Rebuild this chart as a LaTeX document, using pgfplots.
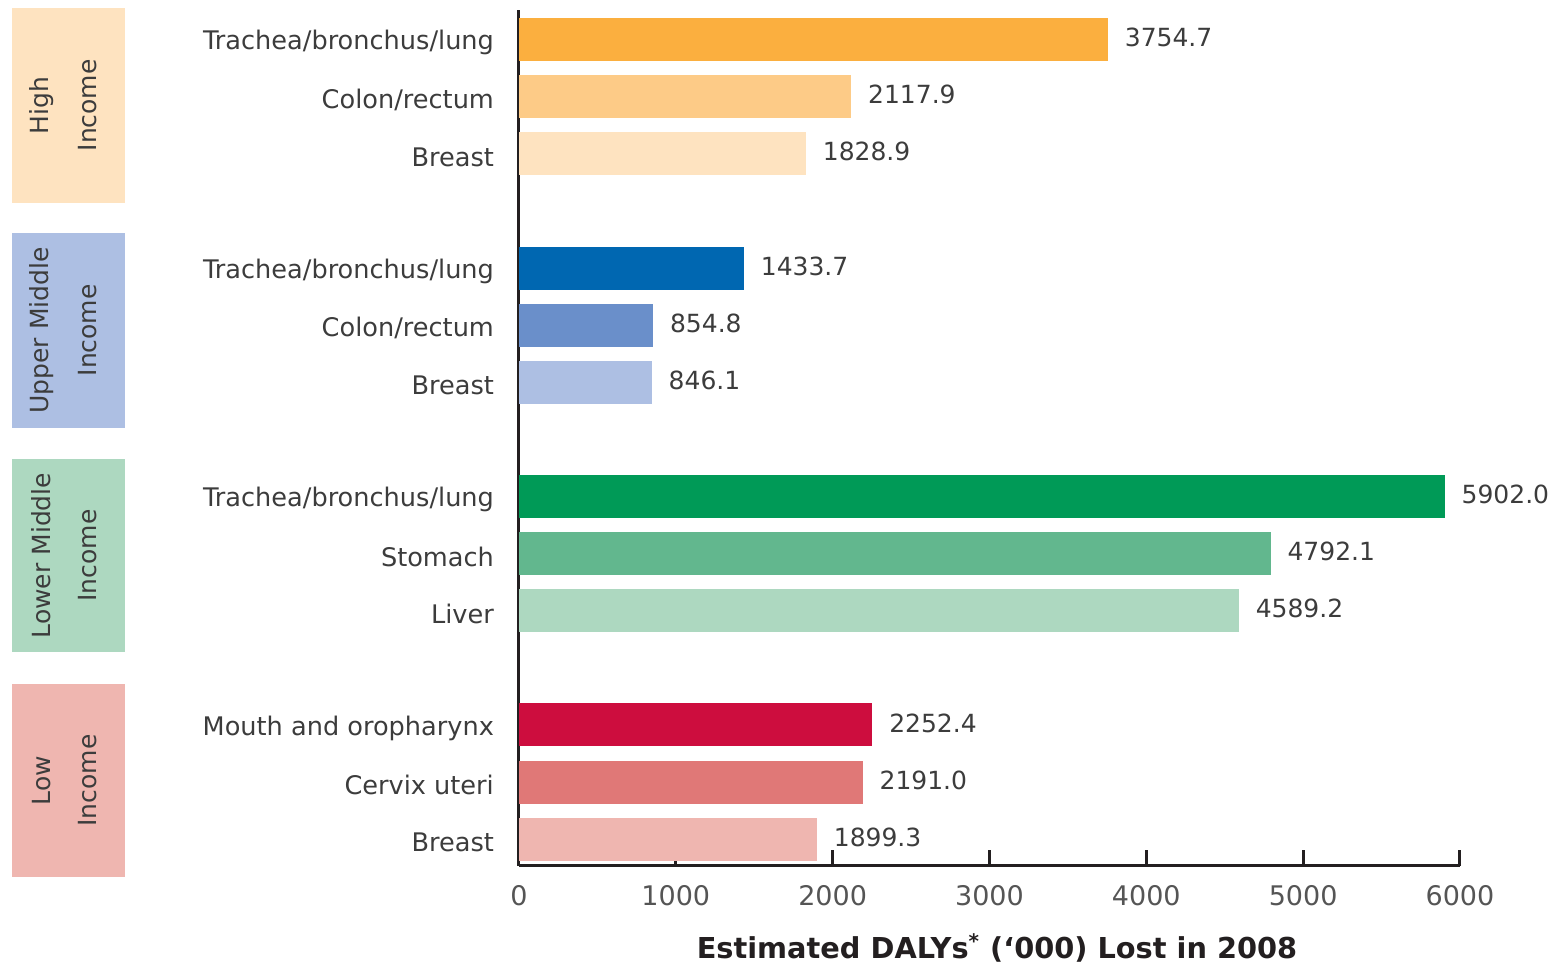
\documentclass[border=0pt]{standalone}
\usepackage{pgfplots}
\pgfplotsset{compat=1.18}
\usepackage{fontspec}
\setmainfont{DejaVu Sans}
\definecolor{hiA}{HTML}{FBAF3F}
\definecolor{hiB}{HTML}{FDCB87}
\definecolor{hiC}{HTML}{FEE3C0}
\definecolor{umA}{HTML}{0067B1}
\definecolor{umB}{HTML}{6A8FCA}
\definecolor{umC}{HTML}{ADBFE3}
\definecolor{lmA}{HTML}{009A57}
\definecolor{lmB}{HTML}{62B78E}
\definecolor{lmC}{HTML}{ADD8C0}
\definecolor{loA}{HTML}{CD0D3E}
\definecolor{loB}{HTML}{E07877}
\definecolor{loC}{HTML}{EFB6B0}
\definecolor{axc}{HTML}{231F20}
\definecolor{txt}{HTML}{3C3C3C}
\definecolor{tkc}{HTML}{555555}
\newcommand{\lab}{\fontsize{12.8}{15}\selectfont}
\newcommand{\vlab}{\fontsize{12.5}{15}\selectfont}
\begin{document}
\begin{tikzpicture}
\begin{axis}[
  scale only axis, width=470.5pt, height=428pt,
  xmin=0, xmax=6000, ymin=-14.47, ymax=0.52,
  axis x line*=bottom, axis y line*=left,
  xbar, bar width=21.5pt, bar shift=0pt,
  clip=false,
  xtick={0,1000,2000,3000,4000,5000,6000},
  scaled x ticks=false,
  xtick align=inside,
  major tick length=8pt,
  x tick style={line width=1.5pt, color=axc},
  axis line style={line width=1.5pt, color=axc},
  ytick={0,-1,-2,-4,-5,-6,-8,-9,-10,-12,-13,-14},
  yticklabels={Trachea/bronchus/lung,Colon/rectum,Breast,Trachea/bronchus/lung,Colon/rectum,Breast,Trachea/bronchus/lung,Stomach,Liver,Mouth and oropharynx,Cervix uteri,Breast},
  y tick style={draw=none},
  yticklabel style={font=\lab, text=txt, xshift=-1pt, yshift=-1.5pt},
  xticklabel style={font=\fontsize{13.5}{15}\selectfont, text=tkc, yshift=-6pt},
  /pgf/number format/1000 sep={},
  /pgf/number format/assume math mode=true,
  xlabel={\textbf{Estimated DALYs\textsuperscript{*} (‘000) Lost in 2008}},
  xlabel style={font=\fontsize{14.4}{17}\selectfont, text=axc, at={(axis description cs:0.508,0)}, anchor=center, yshift=-41pt},
  point meta=x,
  nodes near coords={\pgfmathprintnumber[fixed,zerofill,precision=1,1000 sep={},assume math mode=true]{\pgfplotspointmeta}},
  nodes near coords style={font=\vlab, text=txt, xshift=5pt, yshift=1pt},
]
\addplot[fill=hiA, draw=none] coordinates {(3754.7,0)};
\addplot[fill=hiB, draw=none] coordinates {(2117.9,-1)};
\addplot[fill=hiC, draw=none] coordinates {(1828.9,-2)};
\addplot[fill=umA, draw=none] coordinates {(1433.7,-4)};
\addplot[fill=umB, draw=none] coordinates {(854.8,-5)};
\addplot[fill=umC, draw=none] coordinates {(846.1,-6)};
\addplot[fill=lmA, draw=none] coordinates {(5902.0,-8)};
\addplot[fill=lmB, draw=none] coordinates {(4792.1,-9)};
\addplot[fill=lmC, draw=none] coordinates {(4589.2,-10)};
\addplot[fill=loA, draw=none] coordinates {(2252.4,-12)};
\addplot[fill=loB, draw=none] coordinates {(2191.0,-13)};
\addplot[fill=loC, draw=none] coordinates {(1899.3,-14)};

\fill[hiC] (axis cs:-3233,0.555) rectangle (axis cs:-2512,-2.858);
\fill[umC] (axis cs:-3233,-3.38) rectangle (axis cs:-2512,-6.80);
\fill[lmC] (axis cs:-3233,-7.34) rectangle (axis cs:-2512,-10.73);
\fill[loC] (axis cs:-3233,-11.28) rectangle (axis cs:-2512,-14.67);

\node[rotate=90, font=\vlab, text=txt] at (axis cs:-3044,-1.15) {High};
\node[rotate=90, font=\vlab, text=txt] at (axis cs:-2748,-1.15) {Income};
\node[rotate=90, font=\vlab, text=txt] at (axis cs:-3044,-5.09) {Upper Middle};
\node[rotate=90, font=\vlab, text=txt] at (axis cs:-2748,-5.09) {Income};
\node[rotate=90, font=\vlab, text=txt] at (axis cs:-3044,-9.035) {Lower Middle};
\node[rotate=90, font=\vlab, text=txt] at (axis cs:-2748,-9.035) {Income};
\node[rotate=90, font=\vlab, text=txt] at (axis cs:-3044,-12.975) {Low};
\node[rotate=90, font=\vlab, text=txt] at (axis cs:-2748,-12.975) {Income};

\coordinate (bbl) at (axis cs:-3309,-16.18);
\coordinate (btr) at (axis cs:6638,0.695);
\end{axis}
\pgfresetboundingbox
\path (bbl) rectangle (btr);
\end{tikzpicture}
\end{document}
